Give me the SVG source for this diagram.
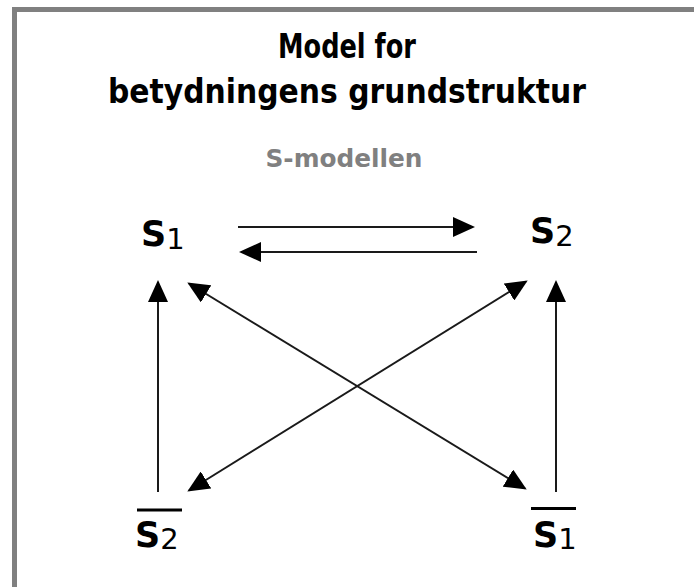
<svg xmlns="http://www.w3.org/2000/svg" width="694" height="587" viewBox="0 0 694 587">
<style>
.title{font-family:"DejaVu Sans",Verdana,sans-serif;font-weight:bold;font-size:34px;fill:#000;text-anchor:middle}
.sub{font-family:"DejaVu Sans",Verdana,sans-serif;font-weight:bold;font-size:25px;fill:#808080;text-anchor:middle}
.s{font-family:"DejaVu Sans",Verdana,sans-serif;font-weight:bold;font-size:35px;fill:#000}
.d{font-family:"DejaVu Sans",Verdana,sans-serif;font-weight:normal;font-size:29px;fill:#000}
.ln{stroke:#1a1a1a;stroke-width:2;fill:none}
.bar{stroke:#000;stroke-width:3}
</style>
<defs>
<marker id="ah" viewBox="0 0 22 20" refX="20" refY="10" markerWidth="22" markerHeight="20" markerUnits="userSpaceOnUse" orient="auto-start-reverse">
<path d="M0,0 L22,10 L0,20 Z" fill="#000"/>
</marker>
</defs>
<rect x="0" y="0" width="694" height="587" fill="#fff"/>
<rect id="frame" x="14.5" y="9.5" width="720" height="620" fill="none" stroke="#808080" stroke-width="5"/>
<g id="title">
<text class="title" x="347" y="58" textLength="138" lengthAdjust="spacingAndGlyphs">Model for</text>
<text class="title" x="347" y="103" textLength="478" lengthAdjust="spacingAndGlyphs">betydningens grundstruktur</text>
<text class="sub" x="344" y="167" textLength="157" lengthAdjust="spacingAndGlyphs">S-modellen</text>
</g>
<g id="connectors">
<line class="ln" x1="238" y1="227" x2="473" y2="227" marker-end="url(#ah)"/>
<line class="ln" x1="477" y1="252" x2="241" y2="252" marker-end="url(#ah)"/>
<line class="ln" x1="158" y1="492" x2="158" y2="282" marker-end="url(#ah)"/>
<line class="ln" x1="556" y1="492" x2="556" y2="282" marker-end="url(#ah)"/>
<line class="ln" x1="189" y1="283.5" x2="525" y2="488.5" marker-start="url(#ah)" marker-end="url(#ah)"/>
<line class="ln" x1="526" y1="281.5" x2="189" y2="490.5" marker-start="url(#ah)" marker-end="url(#ah)"/>
</g>
<g id="node-s1">
<text x="141" y="246"><tspan class="s">S</tspan><tspan class="d" dy="3">1</tspan></text>
</g>
<g id="node-s2">
<text x="530" y="243"><tspan class="s">S</tspan><tspan class="d" dy="3">2</tspan></text>
</g>
<g id="node-s2-bar">
<line class="bar" x1="137" y1="510" x2="182" y2="510"/>
<text x="135" y="547"><tspan class="s">S</tspan><tspan class="d" dy="2">2</tspan></text>
</g>
<g id="node-s1-bar">
<line class="bar" x1="531" y1="508.5" x2="576" y2="508.5"/>
<text x="533" y="547"><tspan class="s">S</tspan><tspan class="d" dy="2">1</tspan></text>
</g>
</svg>
